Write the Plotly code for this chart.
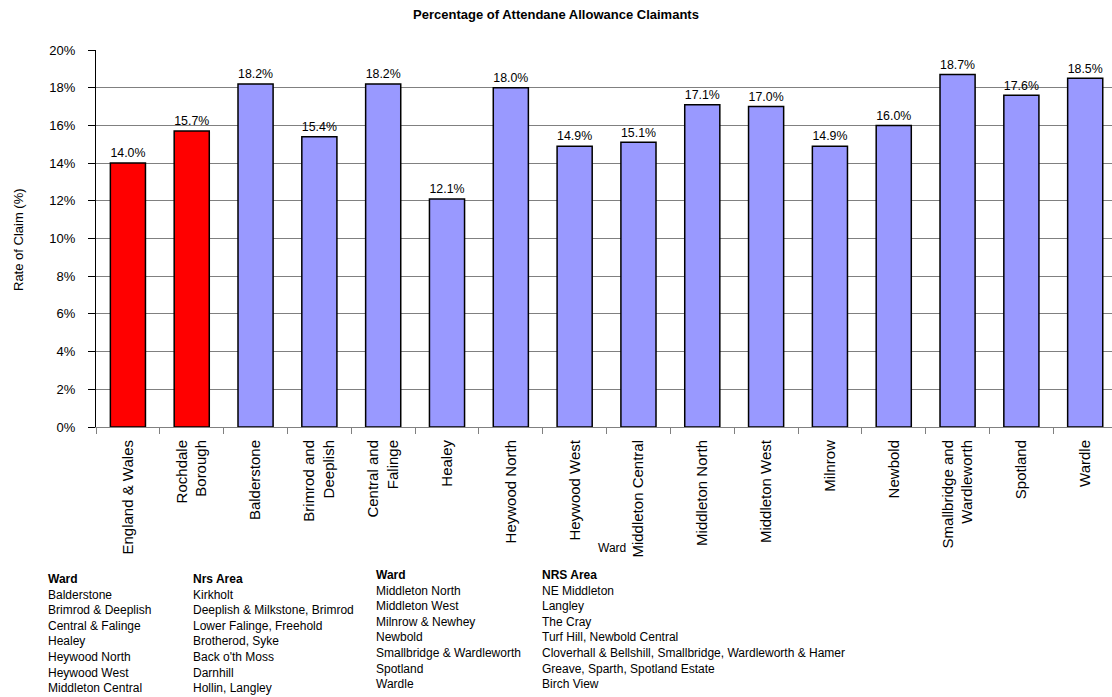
import plotly.graph_objects as go

categories = ["England & Wales", "Rochdale<br>Borough", "Balderstone", "Brimrod and<br>Deeplish",
              "Central and<br>Falinge", "Healey", "Heywood North", "Heywood West",
              "Middleton Central", "Middleton North", "Middleton West", "Milnrow",
              "Newbold", "Smallbridge and<br>Wardleworth", "Spotland", "Wardle"]
values = [14.0, 15.7, 18.2, 15.4, 18.2, 12.1, 18.0, 14.9, 15.1, 17.1, 17.0, 14.9, 16.0, 18.7, 17.6, 18.5]
bar_colors = ["#FF0000", "#FF0000"] + ["#9999FF"] * 14
y_ticks = [0, 2, 4, 6, 8, 10, 12, 14, 16, 18, 20]
y_tick_labels = [f"{v}%" for v in y_ticks]

col1 = ["<b>Ward</b>", "Balderstone", "Brimrod & Deeplish", "Central & Falinge", "Healey",
        "Heywood North", "Heywood West", "Middleton Central"]
col2 = ["<b>Nrs Area</b>", "Kirkholt", "Deeplish & Milkstone, Brimrod", "Lower Falinge, Freehold",
        "Brotherod, Syke", "Back o'th Moss", "Darnhill", "Hollin, Langley"]
col3 = ["<b>Ward</b>", "Middleton North", "Middleton West", "Milnrow & Newhey", "Newbold",
        "Smallbridge & Wardleworth", "Spotland", "Wardle"]
col4 = ["<b>NRS Area</b>", "NE Middleton", "Langley", "The Cray", "Turf Hill, Newbold Central",
        "Cloverhall & Bellshill, Smallbridge, Wardleworth & Hamer", "Greave, Sparth, Spotland Estate",
        "Birch View"]

W, H = 1112, 697
L, R, T, B = 96, 0, 50, 270
pw, ph = W - L - R, H - T - B

def px(x):
    return (x - L) / pw

def py(y):
    return (H - B - y) / ph

FONT = "Liberation Sans, Arial, sans-serif"

fig = go.Figure(go.Bar(
    x=categories,
    y=values,
    marker=dict(color=bar_colors, line=dict(color="black", width=1.5)),
    text=[f"{v:.1f}%" for v in values],
    textposition="outside",
    textfont=dict(size=14, color="black", family=FONT),
    cliponaxis=False,
))

fig.update_layout(
    width=W, height=H,
    margin=dict(l=L, r=R, t=T, b=B, autoexpand=False),
    paper_bgcolor="white", plot_bgcolor="white",
    bargap=0.45,
    showlegend=False,
    font=dict(family=FONT, color="black"),
    title=dict(text="<b>Percentage of Attendane Allowance Claimants</b>",
               x=0.5, xref="container", xanchor="center",
               y=1 - 14 / H, yanchor="middle",
               font=dict(size=13, family=FONT, color="black")),
    xaxis=dict(
        type="category", categoryorder="array", categoryarray=categories,
        tickangle=-90, tickfont=dict(size=15, family=FONT, color="black"),
        range=[-0.5, 15.42],
        showgrid=False, showline=True, linecolor="#808080", linewidth=1,
        ticks="outside", tickson="boundaries", ticklen=6, tickcolor="#808080",
        ticklabelstandoff=6,
        zeroline=False, automargin=False,
    ),
    yaxis=dict(
        range=[0, 20], tickmode="array", tickvals=y_ticks, ticktext=y_tick_labels,
        tickfont=dict(size=13, family=FONT, color="black"),
        showgrid=True, gridcolor="#808080", gridwidth=1,
        showline=True, linecolor="black", linewidth=1,
        ticks="outside", ticklen=7, tickcolor="black",
        ticklabelstandoff=10,
        zeroline=False, automargin=False,
    ),
)

annotations = [
    dict(text="Rate of Claim (%)", xref="paper", yref="paper", x=px(18), y=py(240),
         xanchor="center", yanchor="middle", textangle=-90, showarrow=False,
         font=dict(size=13, family=FONT, color="black")),
    dict(text="Ward", xref="paper", yref="paper", x=px(612), y=py(548),
         xanchor="center", yanchor="middle", showarrow=False,
         font=dict(size=12, family=FONT, color="black")),
]
for col, x0, y0 in [(col1, 47, 571), (col2, 192, 571), (col3, 375, 567), (col4, 541, 567)]:
    annotations.append(dict(text="<br>".join(col), xref="paper", yref="paper",
                            x=px(x0), y=py(y0), xanchor="left", yanchor="top",
                            align="left", showarrow=False, borderpad=0,
                            font=dict(size=12, family=FONT, color="black")))
fig.update_layout(annotations=annotations)

fig.write_html("out.html", config={"displayModeBar": False},
               post_script="document.body.style.margin='0';")
